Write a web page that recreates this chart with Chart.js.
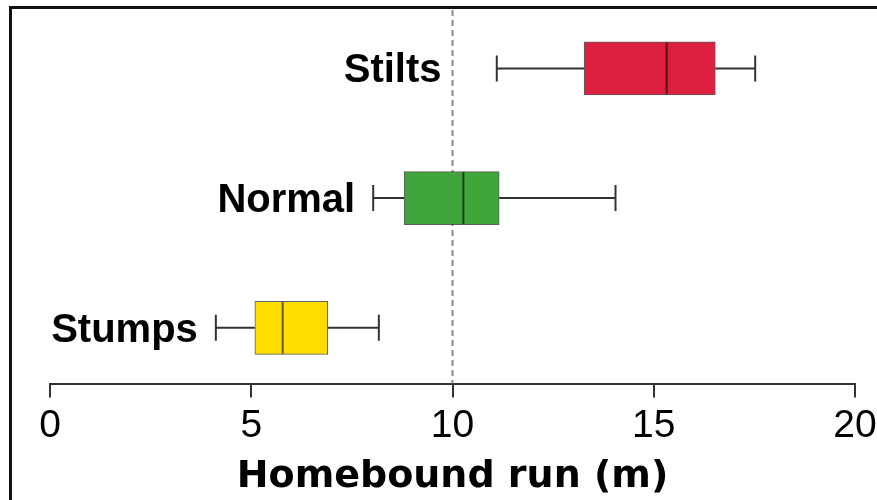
<!DOCTYPE html>
<html lang="en">
<head>
    <meta charset="UTF-8">
    <title>Homebound run</title>
    <script src="https://cdn.jsdelivr.net/npm/chart.js"></script>
    <style>
        html, body {
            margin: 0;
            padding: 0;
            background: white;
            overflow: hidden;
        }
        .frame {
            position: absolute;
            left: 9px;
            top: 6px;
            width: 900px;
            height: 520px;
            border-left: 3px solid #111;
            border-top: 3px solid #111;
            pointer-events: none;
        }
        #chart {
            position: absolute;
            left: 0;
            top: 0;
        }
    </style>
</head>
<body>
<canvas id="chart" width="877" height="500"></canvas>
<div class="frame"></div>
<script>
    // data (metres)
    const categories = ['Stilts', 'Normal', 'Stumps'];
    const whiskerLow = [11.1, 8.03, 4.12];
    const lowerQuartile = [13.27, 8.8, 5.09];
    const medianValues = [15.32, 10.27, 5.78];
    const upperQuartile = [16.53, 11.16, 6.9];
    const whiskerHigh = [17.52, 14.05, 8.17];
    const xTickLabels = ['0', '5', '10', '15', '20'];
    const referenceValue = 10;

    const boxColors = ['#dc1f3f', '#3fa53b', '#ffdd00'];
    const medianColors = ['#5c0d1a', '#1d3b1c', '#6b5b10'];

    // whiskers, medians, labels and the dashed reference line
    const boxExtras = {
        id: 'boxExtras',
        beforeDatasetsDraw(chart) {
            const {ctx, chartArea, scales: {x}} = chart;
            const px = x.getPixelForValue(referenceValue);
            ctx.save();
            ctx.strokeStyle = '#8c8c8c';
            ctx.lineWidth = 2;
            ctx.setLineDash([6, 4]);
            ctx.beginPath();
            ctx.moveTo(px, chartArea.top);
            ctx.lineTo(px, chartArea.bottom);
            ctx.stroke();
            ctx.restore();

            ctx.save();
            ctx.strokeStyle = '#333';
            ctx.lineWidth = 2;
            categories.forEach((cat, i) => {
                const y = chart.scales.y.getPixelForValue(i);
                const lo = x.getPixelForValue(whiskerLow[i]);
                const hi = x.getPixelForValue(whiskerHigh[i]);
                ctx.beginPath();
                ctx.moveTo(lo, y);
                ctx.lineTo(x.getPixelForValue(lowerQuartile[i]), y);
                ctx.moveTo(x.getPixelForValue(upperQuartile[i]), y);
                ctx.lineTo(hi, y);
                ctx.moveTo(lo, y - 13);
                ctx.lineTo(lo, y + 13);
                ctx.moveTo(hi, y - 13);
                ctx.lineTo(hi, y + 13);
                ctx.stroke();
            });
            ctx.restore();
        },
        afterDatasetsDraw(chart) {
            const {ctx, scales: {x, y}} = chart;
            const refPx = x.getPixelForValue(referenceValue);
            ctx.save();
            categories.forEach((cat, i) => {
                const py = y.getPixelForValue(i);
                const mx = x.getPixelForValue(medianValues[i]);
                ctx.strokeStyle = medianColors[i];
                ctx.lineWidth = 2;
                ctx.beginPath();
                ctx.moveTo(mx, py - 26);
                ctx.lineTo(mx, py + 26);
                ctx.stroke();

                // label sits left of the low whisker, but never over the dashed line
                const lo = x.getPixelForValue(whiskerLow[i]);
                const right = Math.min(lo - 18, refPx - 11);
                ctx.fillStyle = '#000';
                ctx.font = 'bold 40px "Liberation Sans", Arial, sans-serif';
                ctx.textAlign = 'right';
                ctx.textBaseline = 'alphabetic';
                ctx.fillText(cat, right, py + 14);
            });
            ctx.restore();
        }
    };

    const ctx = document.getElementById('chart').getContext('2d');
    new Chart(ctx, {
        type: 'bar',
        data: {
            datasets: [{
                data: categories.map((c, i) => ({x: [lowerQuartile[i], upperQuartile[i]], y: i})),
                backgroundColor: boxColors,
                borderColor: 'rgba(40, 40, 40, 0.75)',
                borderWidth: 1,
                borderSkipped: false,
                barThickness: 53
            }]
        },
        options: {
            indexAxis: 'y',
            responsive: false,
            animation: false,
            layout: {
                padding: {left: 50, right: 22, top: 10, bottom: 0}
            },
            plugins: {
                legend: {display: false},
                tooltip: {enabled: false}
            },
            scales: {
                x: {
                    type: 'linear',
                    min: 0,
                    max: 20,
                    // the "20" label may run close to the edge
                    afterFit: (scale) => { scale.paddingRight = 0; },
                    border: {display: true, color: '#333', width: 2},
                    grid: {
                        drawOnChartArea: false,
                        drawTicks: true,
                        tickLength: 14,
                        color: '#333',
                        lineWidth: 2
                    },
                    ticks: {
                        stepSize: 5,
                        padding: 5,
                        color: '#000',
                        font: {family: '"Liberation Sans", Arial, sans-serif', size: 39},
                        callback: (value) => xTickLabels[value / 5]
                    },
                    title: {
                        display: true,
                        text: 'Homebound run (m)',
                        color: '#000',
                        padding: {top: 0, bottom: 0},
                        font: {family: '"DejaVu Sans", sans-serif', size: 38, weight: 'bold'}
                    }
                },
                y: {
                    type: 'linear',
                    reverse: true,
                    display: false,
                    offset: false,
                    min: -0.45,
                    max: 2.43
                }
            }
        },
        plugins: [boxExtras]
    });
</script>
</body>
</html>
